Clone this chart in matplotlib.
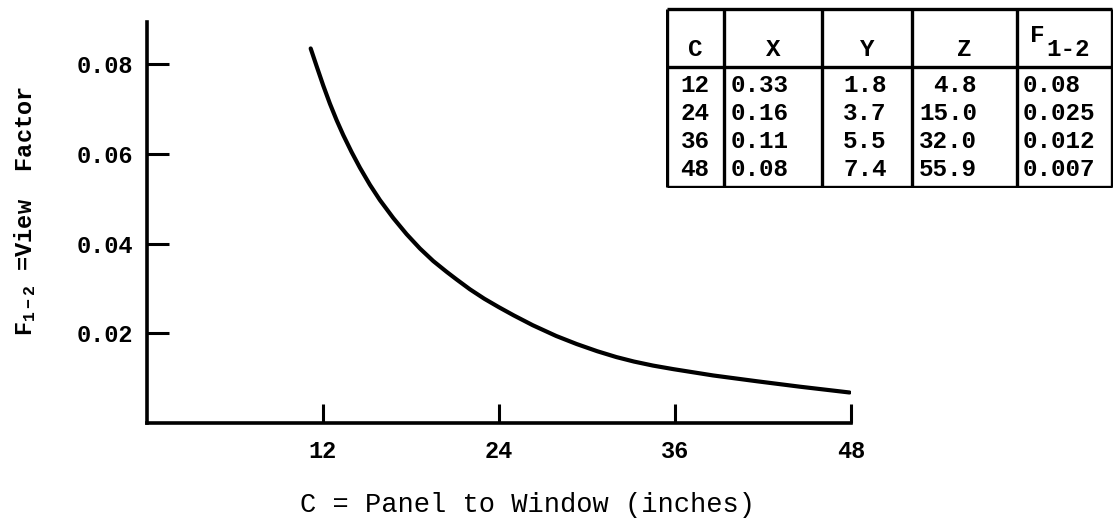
import matplotlib
matplotlib.use("Agg")
import matplotlib.pyplot as plt

# Curve: view factor F(1-2) vs panel-to-window distance C (inches)
curve_c = [11.16, 11.57, 12.02, 12.47, 12.93, 13.38, 13.95, 14.52, 15.20,
           15.88, 16.79, 17.70, 18.61, 19.52, 20.43, 21.11, 22.02, 23.0,
           24.0, 25.0, 26.3, 27.9, 29.3, 30.7, 32.0, 33.2, 34.5, 35.9,
           38.6, 41.6, 44.5, 47.9]
curve_f = [0.0835, 0.0795, 0.0752, 0.0712, 0.0675, 0.0642, 0.0604, 0.0569,
           0.0531, 0.0497, 0.0457, 0.0421, 0.0389, 0.0361, 0.0337, 0.0320,
           0.0298, 0.0277, 0.0258, 0.0240, 0.0218, 0.0194, 0.0176, 0.0160,
           0.0147, 0.0137, 0.0128, 0.0120, 0.0106, 0.0093, 0.0081, 0.0068]

x_ticks = [12, 24, 36, 48]
y_ticks = [0.02, 0.04, 0.06, 0.08]
y_tick_labels = ["0.02", "0.04", "0.06", "0.08"]

# Tabulated geometry values
tab_c = ["12", "24", "36", "48"]
tab_x = ["0.33", "0.16", "0.11", "0.08"]
tab_y = ["1.8", "3.7", "5.5", "7.4"]
tab_z = ["4.8", "15.0", "32.0", "55.9"]
tab_f = ["0.08", "0.025", "0.012", "0.007"]

plt.rcParams["mathtext.fontset"] = "custom"
plt.rcParams["mathtext.rm"] = "Liberation Mono"
plt.rcParams["mathtext.bf"] = "Liberation Mono:bold"

W, H = 1114, 524
fig = plt.figure(figsize=(W / 100, H / 100), dpi=100)
fig.patch.set_facecolor("white")

ax = fig.add_axes([147 / W, (H - 423) / H, (851 - 147) / W, (423 - 22) / H])
ax.plot(curve_c, curve_f, color="black", lw=3.0,
        solid_capstyle="round", solid_joinstyle="round")
ax.set_xlim(0, 48)
ax.set_ylim(0, 0.0894)
for side in ("top", "right"):
    ax.spines[side].set_visible(False)
for side in ("left", "bottom"):
    ax.spines[side].set_linewidth(2.6)
    ax.spines[side].set_color("black")

tick_font = dict(family="Liberation Mono", weight="bold", size=17)
ax.set_xticks(x_ticks)
ax.set_xticklabels([str(v) for v in x_ticks], **tick_font)
ax.set_yticks(y_ticks)
ax.set_yticklabels(y_tick_labels, **tick_font)
ax.tick_params(axis="x", direction="in", length=14, width=2.2, pad=12)
ax.tick_params(axis="y", direction="in", length=16, width=2.2, pad=10)

fig.text(25 / W, (H - 211) / H, r"$\mathbf{F_{1-2}}$ =View  Factor",
         rotation=90, ha="center", va="center",
         family="Liberation Mono", weight="bold", size=17)
fig.text(527 / W, (H - 505) / H, "C = Panel to Window (inches)",
         ha="center", va="center", family="Liberation Mono", size=19.5)

# Table drawn in its own pixel-unit axes
tx0, tx1, ty0, ty1 = 666, 1113, 7, 188
tax = fig.add_axes([tx0 / W, (H - ty1) / H, (tx1 - tx0) / W, (ty1 - ty0) / H])
tax.set_xlim(tx0, tx1)
tax.set_ylim(ty1, ty0)
tax.axis("off")

col_edges = [667, 724, 822, 912, 1017, 1112]
header_line = 67
lw = 2.4
tax.hlines([ty0 + 1.5, header_line, ty1 - 1.5], col_edges[0], col_edges[-1],
           color="black", lw=lw)
tax.vlines(col_edges, ty0 + 1.5, ty1 - 1.5, color="black", lw=lw)

tfont = dict(family="Liberation Mono", weight="bold", size=17.5, color="black")
hy = 49
tax.text(695, hy, "C", ha="center", va="center", **tfont)
tax.text(773, hy, "X", ha="center", va="center", **tfont)
tax.text(867, hy, "Y", ha="center", va="center", **tfont)
tax.text(964, hy, "Z", ha="center", va="center", **tfont)
tax.text(1030, 36, "F", ha="left", va="center", **tfont)
tax.text(1046, 50, "1-2", ha="left", va="center", **tfont)

row_y = [86, 114, 141, 169]
for i, ry in enumerate(row_y):
    tax.text(695, ry, tab_c[i], ha="center", va="center", **tfont)
    tax.text(731, ry, tab_x[i], ha="left", va="center", **tfont)
    tax.text(865, ry, tab_y[i], ha="center", va="center", **tfont)
    tax.text(977, ry, tab_z[i], ha="right", va="center", **tfont)
    tax.text(1023, ry, tab_f[i], ha="left", va="center", **tfont)

fig.savefig("out.png", dpi=100, facecolor="white")
